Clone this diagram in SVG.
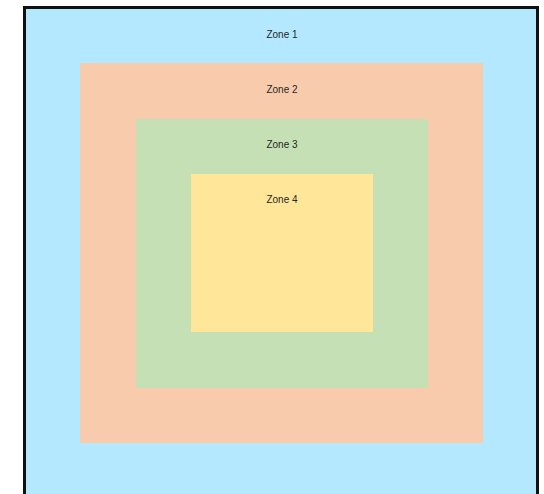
<svg xmlns="http://www.w3.org/2000/svg" width="544" height="494" viewBox="0 0 544 494">
<style>
.lbl{font-family:"Liberation Sans",Arial,sans-serif;font-size:10px;fill:#262626;text-anchor:middle}
</style>
<rect width="544" height="494" fill="#ffffff"/>
<g id="zone1">
<rect x="24.5" y="7.5" width="513" height="500" fill="#b3e8fe" stroke="#111" stroke-width="3"/>
<text class="lbl" x="282" y="38">Zone 1</text>
</g>
<g id="zone2">
<rect x="80" y="63" width="403" height="380" fill="#f8cbad"/>
<text class="lbl" x="282" y="93">Zone 2</text>
</g>
<g id="zone3">
<rect x="136" y="119" width="292" height="269" fill="#c5e0b4"/>
<text class="lbl" x="282" y="148">Zone 3</text>
</g>
<g id="zone4">
<rect x="191" y="174" width="182" height="158" fill="#ffe699"/>
<text class="lbl" x="282" y="203">Zone 4</text>
</g>
<g id="connectors"/>
</svg>
